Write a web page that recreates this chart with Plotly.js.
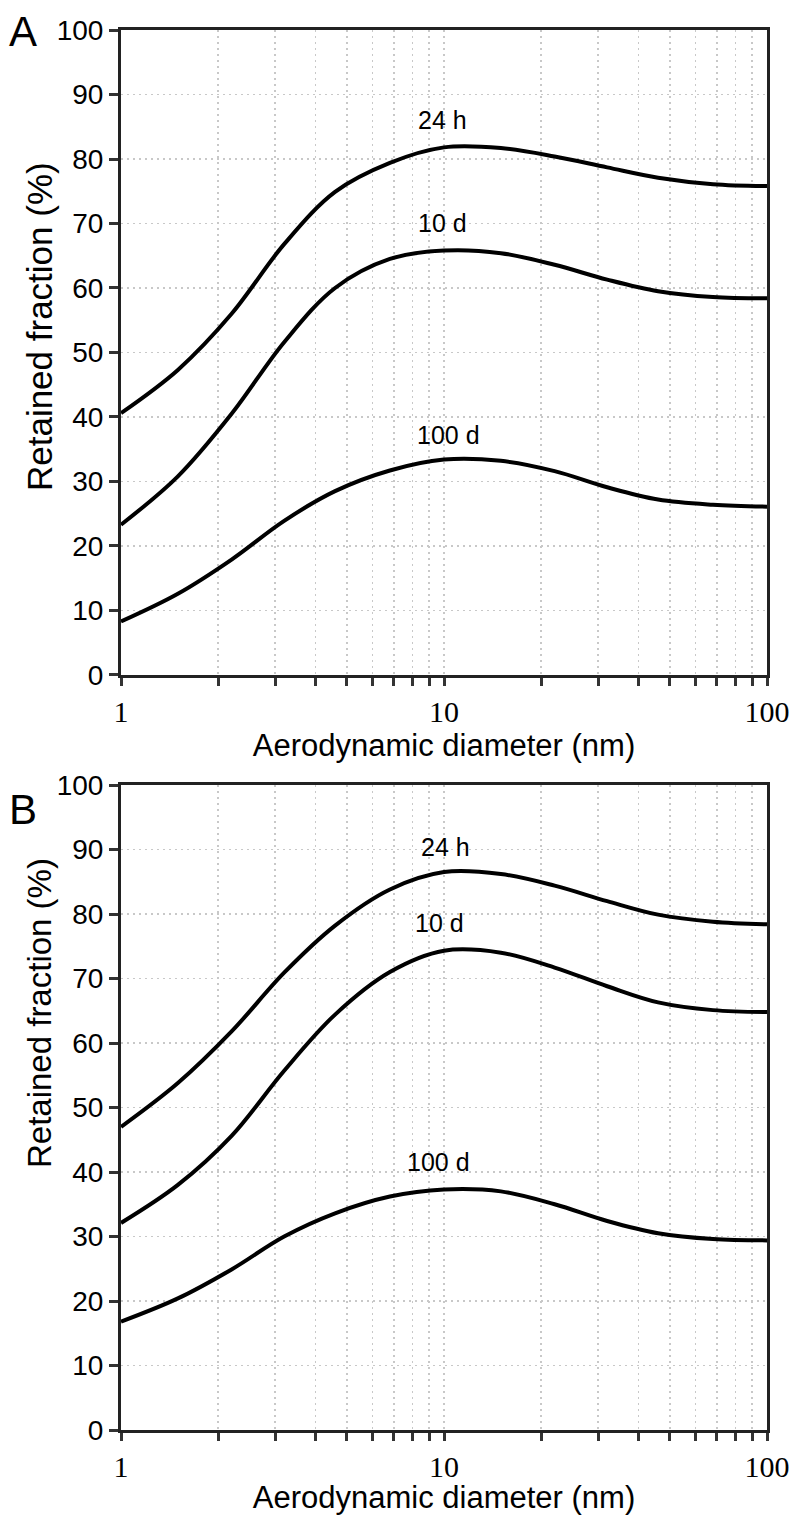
<!DOCTYPE html>
<html>
<head>
<meta charset="utf-8">
<script src="https://cdn.plot.ly/plotly-3.0.1.min.js"></script>
<style>
  body { margin: 0; background: #fff; }
  #chart { width: 792px; height: 1515px; }
</style>
</head>
<body>
<div id="chart"></div>
<script>
// Retained fraction vs aerodynamic diameter, panels A and B

const diam = [1, 1.5, 2.2, 3.2, 4.6, 6.8, 10, 15, 22, 32, 46, 68, 100];

// panel A
const a24h  = [40.6, 47.3, 56.0, 66.8, 74.9, 79.4, 81.8, 81.7, 80.4, 78.7, 77.1, 76.1, 75.8];
const a10d  = [23.3, 30.8, 40.5, 51.6, 60.0, 64.5, 65.8, 65.4, 63.6, 61.3, 59.5, 58.6, 58.4];
const a100d = [8.3, 12.6, 17.9, 23.9, 28.5, 31.7, 33.4, 33.2, 31.6, 29.1, 27.2, 26.4, 26.1];

// panel B
const b24h  = [47.0, 53.8, 61.8, 70.9, 78.2, 83.8, 86.5, 86.2, 84.4, 82.0, 79.9, 78.8, 78.4];
const b10d  = [32.1, 38.0, 45.6, 55.7, 64.4, 71.0, 74.3, 74.0, 71.7, 68.8, 66.3, 65.1, 64.8];
const b100d = [16.8, 20.4, 24.9, 30.0, 33.6, 36.2, 37.3, 37.0, 35.0, 32.4, 30.5, 29.6, 29.4];

const curveNames = ['24 h', '10 d', '100 d'];
const xTickVals = [1, 2, 3, 4, 5, 6, 7, 8, 9, 10, 20, 30, 40, 50, 60, 70, 80, 90, 100];
const xTickText = xTickVals.map(v => (v === 1 || v === 10 || v === 100) ? String(v) : '');
const yTickVals = [0, 10, 20, 30, 40, 50, 60, 70, 80, 90, 100];

const SANS = 'Liberation Sans, Arial, sans-serif';
const SERIF = 'Liberation Serif, Times New Roman, serif';

function curve(y, xa, ya) {
  return {
    x: diam, y: y, xaxis: xa, yaxis: ya,
    type: 'scatter', mode: 'lines',
    line: {color: '#000', width: 4, shape: 'spline', smoothing: 1},
    hoverinfo: 'skip', showlegend: false
  };
}

const traces = [
  curve(a24h, 'x', 'y'), curve(a10d, 'x', 'y'), curve(a100d, 'x', 'y'),
  curve(b24h, 'x2', 'y2'), curve(b10d, 'x2', 'y2'), curve(b100d, 'x2', 'y2')
];

function xAxis(anchor, standoff) {
  return {
    type: 'log', range: [0, 2], anchor: anchor,
    tickmode: 'array', tickvals: xTickVals, ticktext: xTickText,
    ticks: 'outside', ticklen: 8, tickwidth: 3, tickcolor: '#333',
    tickfont: {family: SERIF, size: 30, color: '#000'},
    showline: true, linewidth: 3, linecolor: '#222', mirror: true,
    showgrid: true, gridcolor: '#c8c8c8', gridwidth: 1.5, griddash: '2px,4px',
    zeroline: false,
    title: {text: 'Aerodynamic diameter (nm)', font: {family: SANS, size: 31, color: '#000'}, standoff: standoff}
  };
}

function yAxis(domain, anchor) {
  return {
    domain: domain, range: [0, 100], anchor: anchor,
    tickmode: 'array', tickvals: yTickVals,
    ticks: 'outside', ticklen: 9, tickwidth: 3, tickcolor: '#333',
    tickfont: {family: SANS, size: 28, color: '#000'},
    showline: true, linewidth: 3, linecolor: '#222', mirror: true,
    showgrid: true, gridcolor: '#c8c8c8', gridwidth: 1.5, griddash: '2px,4px',
    zeroline: false
  };
}

function curveLabel(text, x, y, xref, yref) {
  return {
    text: text, x: Math.log10(x), y: y, xref: xref, yref: yref,
    showarrow: false, xanchor: 'center', yanchor: 'middle',
    font: {family: SANS, size: 25, color: '#000'}
  };
}

function yTitle(y, size) {
  return {
    text: 'Retained fraction (%)', textangle: -90, xref: 'paper', yref: 'paper',
    x: -0.125, y: y, xanchor: 'center', yanchor: 'middle', showarrow: false,
    font: {family: SANS, size: size, color: '#000'}
  };
}

function panelLetter(text, y) {
  return {
    text: text, xref: 'paper', yref: 'paper', x: -0.152, y: y,
    xanchor: 'center', yanchor: 'middle', showarrow: false,
    font: {family: SANS, size: 42, color: '#000'}
  };
}

const annotations = [
  curveLabel(curveNames[0], 9.9, 86.0, 'x', 'y'),
  curveLabel(curveNames[1], 9.9, 70.1, 'x', 'y'),
  curveLabel(curveNames[2], 10.3, 37.2, 'x', 'y'),
  curveLabel(curveNames[0], 10.1, 90.4, 'x2', 'y2'),
  curveLabel(curveNames[1], 9.7, 78.6, 'x2', 'y2'),
  curveLabel(curveNames[2], 9.6, 41.5, 'x2', 'y2'),
  yTitle(0.788, 35),
  yTitle(0.298, 33),
  panelLetter('A', 0.999),
  panelLetter('B', 0.443)
];

const layout = {
  width: 792, height: 1515,
  margin: {l: 121, r: 25, t: 30, b: 85},
  paper_bgcolor: '#fff', plot_bgcolor: '#fff',
  xaxis: xAxis('y', 4),
  yaxis: yAxis([0.5393, 1], 'x'),
  xaxis2: xAxis('y2', 9),
  yaxis2: yAxis([0, 0.4607], 'x2'),
  annotations: annotations,
  showlegend: false
};

Plotly.newPlot('chart', traces, layout, {staticPlot: true});
</script>
</body>
</html>
